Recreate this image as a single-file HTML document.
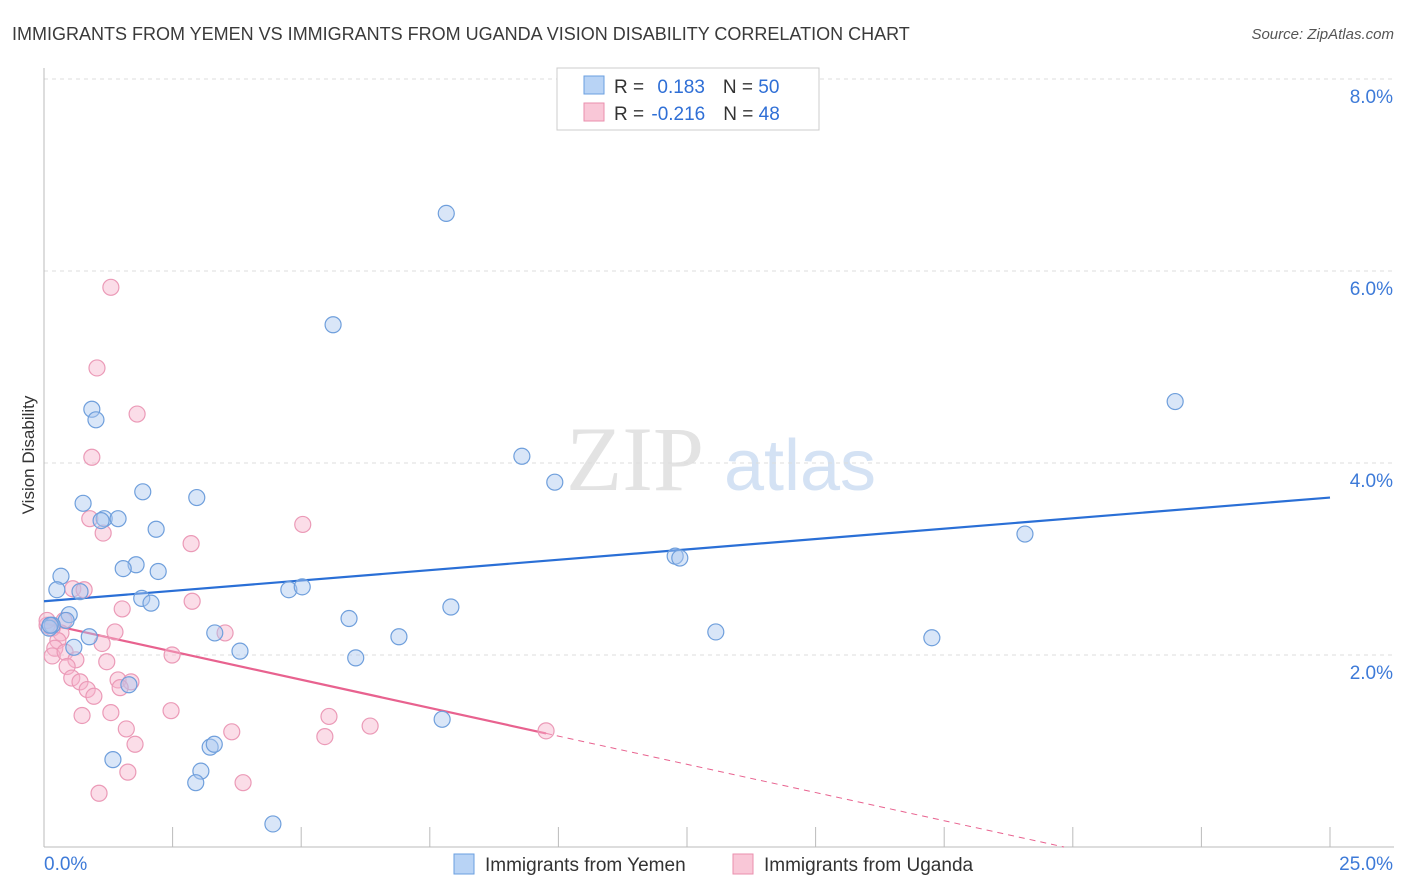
<!DOCTYPE html>
<html><head><meta charset="utf-8">
<style>
body{margin:0;background:#fff;font-family:"Liberation Sans",sans-serif;}
#wrap{position:relative;width:1406px;height:892px;overflow:hidden;}
</style></head>
<body>
<div id="wrap">
<svg id="chart" width="1406" height="892" font-family="Liberation Sans, sans-serif">
<text x="12" y="40" font-size="18" fill="#3a3a3a">IMMIGRANTS FROM YEMEN VS IMMIGRANTS FROM UGANDA VISION DISABILITY CORRELATION CHART</text>
<text x="1394" y="39" font-size="15" fill="#555" font-style="italic" text-anchor="end">Source: ZipAtlas.com</text>
<text x="34" y="455" font-size="17" fill="#333" text-anchor="middle" transform="rotate(-90 34 455)">Vision Disability</text>
<g><text x="635" y="490" font-size="92" fill="#e3e3e3" font-family="Liberation Serif, serif" text-anchor="middle">ZIP</text><text x="800" y="490" font-size="72" fill="#d4e2f4" text-anchor="middle">atlas</text></g>
<g id="grid"></g><g id="axes"></g><g id="trend"></g><g id="pts"></g>
<g>
<rect x="557" y="68" width="262" height="62" fill="#fff" stroke="#ccc"/>
<rect x="584" y="76" width="20" height="18" fill="#b8d3f5" stroke="#6a9fe0"/>
<rect x="584" y="103" width="20" height="18" fill="#f9c7d7" stroke="#ea8fae"/>
<text x="614" y="93" font-size="19" fill="#333">R = <tspan fill="#2f6fd6" dx="8">0.183</tspan><tspan dx="18" fill="#333">N = </tspan><tspan fill="#2f6fd6">50</tspan></text>
<text x="614" y="120" font-size="19" fill="#333">R = <tspan fill="#2f6fd6" dx="2">-0.216</tspan><tspan dx="18" fill="#333">N = </tspan><tspan fill="#2f6fd6">48</tspan></text>
</g>
<g>
<rect x="454" y="854" width="20" height="20" fill="#b8d3f5" stroke="#6a9fe0"/>
<text x="485" y="871" font-size="19" fill="#333">Immigrants from Yemen</text>
<rect x="733" y="854" width="20" height="20" fill="#f9c7d7" stroke="#ea8fae"/>
<text x="764" y="871" font-size="19" fill="#333">Immigrants from Uganda</text>
</g>
</svg>
</div>
<script>
const yTicks=[2,4,6,8];
const yTickLabels=["2.0%","4.0%","6.0%","8.0%"];
const xEndLabels=["0.0%","25.0%"];
const yemenX=[7.82,5.62,21.99,0.93,1.01,9.29,9.93,1.92,2.97,0.76,1.17,1.44,1.11,2.18,19.07,12.27,12.36,1.79,1.54,2.22,0.33,0.25,0.70,4.76,5.02,1.9,2.08,7.91,0.49,5.93,0.43,0.16,0.10,3.32,13.06,0.88,6.9,17.26,0.58,3.81,6.06,1.65,7.74,3.23,3.31,1.34,3.05,2.95,4.45,0.12];
const yemenY=[6.6,5.44,4.64,4.56,4.45,4.07,3.8,3.7,3.64,3.58,3.42,3.42,3.4,3.31,3.26,3.03,3.01,2.94,2.9,2.87,2.82,2.68,2.66,2.68,2.71,2.59,2.54,2.5,2.42,2.38,2.36,2.31,2.28,2.23,2.24,2.19,2.19,2.18,2.08,2.04,1.97,1.69,1.33,1.04,1.07,0.91,0.79,0.67,0.24,2.31];
const ugandaX=[1.3,1.03,1.81,0.93,5.03,0.89,1.15,2.86,0.56,0.78,2.88,1.52,0.39,0.33,3.52,1.38,0.16,0.06,0.27,1.13,0.21,0.16,2.49,0.41,0.62,1.22,0.45,0.54,1.44,1.69,0.70,0.84,0.97,1.48,5.54,6.34,2.47,0.74,1.3,1.6,3.65,5.46,9.76,1.77,1.63,3.87,1.07,0.06];
const ugandaY=[5.83,4.99,4.51,4.06,3.36,3.42,3.27,3.16,2.69,2.68,2.56,2.48,2.36,2.23,2.23,2.24,2.28,2.31,2.15,2.12,2.07,1.99,2.0,2.03,1.95,1.93,1.88,1.76,1.74,1.72,1.72,1.64,1.57,1.66,1.36,1.26,1.42,1.37,1.4,1.23,1.20,1.15,1.21,1.07,0.78,0.67,0.56,2.36];
const yemenTrend=[2.56,3.64];
const ugandaTrend=[2.33,-0.1175];
const NS="http://www.w3.org/2000/svg";
const X0=44,X1=1330,YB=847,PY=96;
const xs=v=>X0+v/25*(X1-X0), ys=v=>YB-v*PY;
function mk(tag,attrs,parent){const e=document.createElementNS(NS,tag);for(const k in attrs)e.setAttribute(k,attrs[k]);parent.appendChild(e);return e;}
const grid=document.getElementById('grid'),axes=document.getElementById('axes');
yTicks.forEach((t,i)=>{
 const l=mk('line',{x1:X0,x2:1394,y1:ys(t),y2:ys(t),stroke:'#ddd','stroke-dasharray':'4,4'},grid);
 
 
 const tx=mk('text',{x:1393,y:ys(t)+24,'font-size':19,fill:'#3d7ad8','text-anchor':'end'},axes);
 tx.textContent=yTickLabels[i];
 
 
});
const xa=mk('line',{x1:X0,x2:1394,y1:YB,y2:YB,stroke:'#bbb'},axes);


const ya=mk('line',{x1:X0,x2:X0,y1:68,y2:YB,stroke:'#bbb'},axes);


for(let i=0;i<=10;i++){const tk=mk('line',{x1:xs(i*2.5),x2:xs(i*2.5),y1:YB-20,y2:YB,stroke:'#bbb'},axes);
 
 }
[[0,44,'start'],[25,1393,'end']].forEach((a,i)=>{const t=mk('text',{x:a[1],y:870,'font-size':19,fill:'#3d7ad8','text-anchor':a[2]},axes);t.textContent=xEndLabels[i];
 
 });
const pts=document.getElementById('pts');
ugandaX.forEach((x,i)=>{const c=mk('circle',{cx:xs(x),cy:ys(ugandaY[i]),r:8,fill:'rgba(246,180,204,0.45)',stroke:'#eb9ab7','stroke-width':1.2},pts);
 
 });
yemenX.forEach((x,i)=>{const c=mk('circle',{cx:xs(x),cy:ys(yemenY[i]),r:8,fill:'rgba(170,200,240,0.45)',stroke:'#6f9fdc','stroke-width':1.2},pts);
 
 });
const tr=document.getElementById('trend');
const bl=mk('line',{x1:xs(0),y1:ys(yemenTrend[0]),x2:xs(25),y2:ys(yemenTrend[1]),stroke:'#2a6fd6','stroke-width':2.2},tr);


const uf=x=>ugandaTrend[0]+ugandaTrend[1]*x;
const xmax=Math.max(...ugandaX);
const pl=mk('line',{x1:xs(0),y1:ys(uf(0)),x2:xs(xmax),y2:ys(uf(xmax)),stroke:'#e8628f','stroke-width':2.2},tr);


const xz=Math.min(25,-ugandaTrend[0]/ugandaTrend[1]);
const pd=mk('line',{x1:xs(xmax),y1:ys(uf(xmax)),x2:xs(xz),y2:ys(uf(xz)),stroke:'#e8628f','stroke-width':1,'stroke-dasharray':'6,5'},tr);


</script>
</body></html>
